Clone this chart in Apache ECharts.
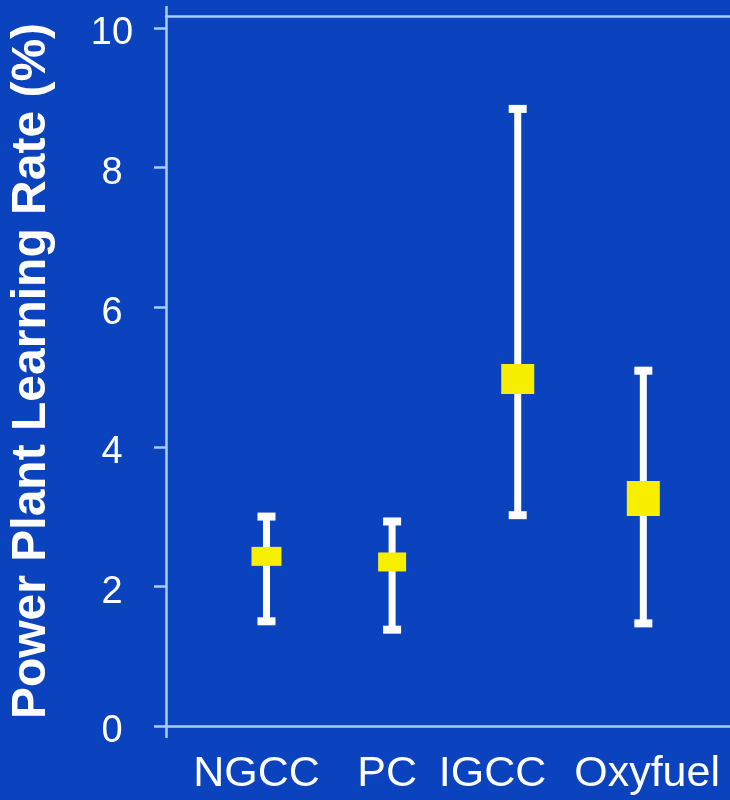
<!DOCTYPE html>
<html>
<head>
<meta charset="utf-8">
<script src="https://cdn.jsdelivr.net/npm/echarts@6/dist/echarts.min.js"></script>
<style>
  html, body { margin: 0; padding: 0; background: #0b43bf; }
  #chart { width: 730px; height: 800px; }
</style>
</head>
<body>
<div id="chart"></div>
<script>
// Learning rates by power plant technology (%)
const categories = ['NGCC', 'PC', 'IGCC', 'Oxyfuel'];
const positions = [1, 2, 3, 4];
const central = [2.43, 2.35, 4.97, 3.26];
const low = [1.5, 1.38, 3.02, 1.47];
const high = [3.0, 2.93, 8.84, 5.09];
const yTicks = [0, 2, 4, 6, 8, 10];
// where each category name sits along the x axis (axis units)
const labelAt = [0.92, 1.96, 2.80, 4.03];

// marker footprint per technology (width, height in px)
const markerSizes = [[30, 19], [28, 19], [33, 30], [33, 35]];

const axisBlue = '#a6cdfa';
const font = '"Liberation Sans", Arial, Helvetica, sans-serif';

const chart = echarts.init(document.getElementById('chart'), null, { renderer: 'canvas' });

const errorData = positions.map((p, i) => [p, low[i], high[i]]);
const meanData = positions.map((p, i) => ({ value: [p, central[i]], symbolSize: markerSizes[i] }));

function nameFor(v) {
  let best = 0;
  labelAt.forEach((p, i) => { if (Math.abs(p - v) < Math.abs(labelAt[best] - v)) best = i; });
  return categories[best];
}

chart.setOption({
  backgroundColor: '#0b43bf',
  animation: false,
  grid: { left: 164, right: 0, top: 16, bottom: 74 },
  xAxis: [
    {
      type: 'value',
      position: 'bottom',
      min: 0.2,
      max: 4.69,
      splitLine: { show: false },
      axisLine: { show: true, lineStyle: { color: axisBlue, width: 2.5 } },
      axisTick: { show: true, customValues: [0.2], length: 12, inside: false,
                  lineStyle: { color: axisBlue, width: 2.5 } },
      axisLabel: {
        customValues: labelAt,
        formatter: nameFor,
        showMinLabel: true,
        showMaxLabel: true,
        hideOverlap: false,
        color: '#ffffff', fontFamily: font, fontSize: 43, margin: 27
      }
    },
    {
      type: 'value',
      position: 'top',
      min: 0.2,
      max: 4.69,
      splitLine: { show: false },
      axisLine: { show: true, lineStyle: { color: axisBlue, width: 2.5 } },
      axisTick: { show: true, customValues: [0.2], length: 10,
                  lineStyle: { color: axisBlue, width: 2.5 } },
      axisLabel: { show: false }
    }
  ],
  yAxis: {
    type: 'value',
    min: 0,
    max: 10.171,
    name: 'Power Plant Learning Rate (%)',
    nameLocation: 'middle',
    nameGap: 110,
    nameTextStyle: { color: '#ffffff', fontFamily: font, fontWeight: 'bold', fontSize: 48 },
    splitLine: { show: false },
    axisLine: { show: true, lineStyle: { color: axisBlue, width: 2.5 } },
    axisTick: { show: true, customValues: yTicks, length: 12,
                lineStyle: { color: axisBlue, width: 2.5 } },
    axisLabel: {
      customValues: yTicks,
      formatter: v => '{n|' + v + '}',
      align: 'center', margin: 54,
      rich: {
        n: { color: '#ffffff', fontFamily: font, fontSize: 38, padding: [12, 0, 0, 0] }
      }
    }
  },
  series: [
    {
      type: 'custom',
      data: errorData,
      encode: { x: 0, y: [1, 2] },
      renderItem: function (params, api) {
        const x = api.value(0);
        const lo = api.coord([x, api.value(1)]);
        const hi = api.coord([x, api.value(2)]);
        const capHalf = 9;
        return {
          type: 'group',
          children: [
            { type: 'line', shape: { x1: hi[0], y1: hi[1], x2: lo[0], y2: lo[1] },
              style: { stroke: '#ffffff', lineWidth: 7 } },
            { type: 'line', shape: { x1: hi[0] - capHalf, y1: hi[1], x2: hi[0] + capHalf, y2: hi[1] },
              style: { stroke: '#ffffff', lineWidth: 8 } },
            { type: 'line', shape: { x1: lo[0] - capHalf, y1: lo[1], x2: lo[0] + capHalf, y2: lo[1] },
              style: { stroke: '#ffffff', lineWidth: 8 } }
          ]
        };
      },
      z: 2
    },
    {
      type: 'scatter',
      data: meanData,
      symbol: 'rect',
      itemStyle: { color: '#f7ee00', opacity: 1 },
      z: 3
    }
  ]
});
</script>
</body>
</html>
